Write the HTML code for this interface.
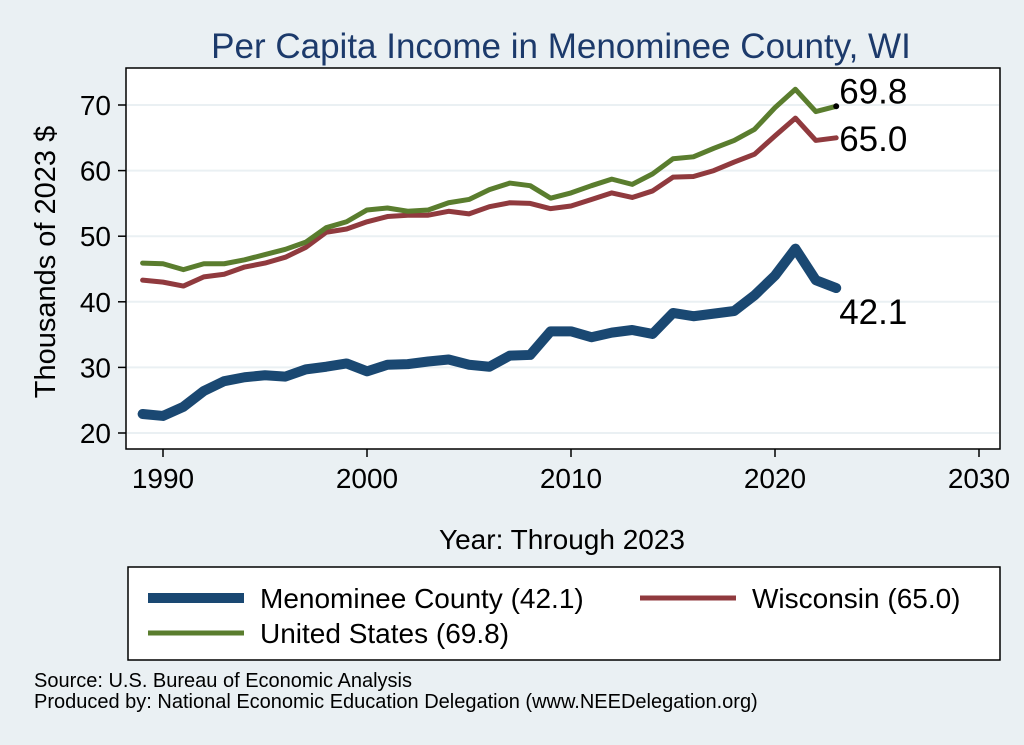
<!DOCTYPE html>
<html><head><meta charset="utf-8"><style>
body{margin:0;background:#eaf0f3;font-family:"Liberation Sans",sans-serif;}
svg{display:block}
</style></head><body>
<svg width="1024" height="745" xmlns="http://www.w3.org/2000/svg">
<rect width="1024" height="745" fill="#eaf0f3"/>
<text x="561" y="58" text-anchor="middle" font-size="35" fill="#1c3a6b">Per Capita Income in Menominee County, WI</text>
<rect x="126" y="68" width="874" height="381" fill="#fff" stroke="#000" stroke-width="1.5"/>
<g id="grid"></g><g id="axes"></g><g id="series"></g>
<text transform="translate(55,262) rotate(-90)" text-anchor="middle" font-size="29" fill="#000">Thousands of 2023 $</text>
<text x="562" y="549" text-anchor="middle" font-size="28" fill="#000">Year: Through 2023</text>
<rect x="128" y="567" width="872" height="93" fill="#fff" stroke="#000" stroke-width="1.5"/>
<g><line x1="148" y1="598" x2="244" y2="598" stroke="#1a4872" stroke-width="10"/><text x="260" y="608" font-size="28">Menominee County (42.1)</text></g>
<g><line x1="640" y1="598" x2="736" y2="598" stroke="#903a3e" stroke-width="5"/><text x="752" y="608" font-size="28">Wisconsin (65.0)</text></g>
<g><line x1="148" y1="633" x2="244" y2="633" stroke="#5a7d2e" stroke-width="5"/><text x="260" y="643" font-size="28">United States (69.8)</text></g>
<text x="34" y="687" font-size="20">Source: U.S. Bureau of Economic Analysis</text>
<text x="34" y="708" font-size="20">Produced by: National Economic Education Delegation (www.NEEDelegation.org)</text>
</svg>
<script>
const years=[1989,1990,1991,1992,1993,1994,1995,1996,1997,1998,1999,2000,2001,2002,2003,2004,2005,2006,2007,2008,2009,2010,2011,2012,2013,2014,2015,2016,2017,2018,2019,2020,2021,2022,2023];
const menominee=[22.9,22.6,24,26.4,27.9,28.5,28.8,28.6,29.7,30.1,30.6,29.4,30.4,30.5,30.9,31.2,30.4,30.1,31.8,31.9,35.5,35.5,34.6,35.3,35.7,35.1,38.3,37.8,38.2,38.6,41,44,48.1,43.3,42.1];
const wisconsin=[43.3,43.0,42.4,43.8,44.2,45.3,45.9,46.8,48.3,50.6,51.1,52.2,53.0,53.2,53.2,53.8,53.4,54.5,55.1,55.0,54.2,54.6,55.6,56.6,55.9,56.9,59.0,59.1,60.0,61.3,62.5,65.3,68.0,64.6,65.0];
const us=[45.9,45.8,44.9,45.8,45.8,46.4,47.2,48.0,49.1,51.3,52.2,54.0,54.3,53.8,54.0,55.1,55.6,57.1,58.1,57.7,55.8,56.6,57.7,58.7,57.9,59.5,61.8,62.1,63.4,64.6,66.3,69.6,72.4,69.0,69.8];
const xTicks=[1990,2000,2010,2020,2030];
const yTicks=[20,30,40,50,60,70];
const NS="http://www.w3.org/2000/svg";
const X=v=>163+(v-1990)*20.4;
const Y=v=>433-(v-20)*6.56;
function mk(t,a,p){const e=document.createElementNS(NS,t);for(const k in a)e.setAttribute(k,a[k]);p.appendChild(e);return e;}
const grid=document.getElementById('grid'),axes=document.getElementById('axes'),ser=document.getElementById('series');
yTicks.forEach(v=>{
 const g=mk('line',{x1:127,x2:999,y1:Y(v),y2:Y(v),stroke:'#eaf0f3','stroke-width':2},grid);
 
 
 mk('line',{x1:118,x2:126,y1:Y(v),y2:Y(v),stroke:'#000','stroke-width':1.5},axes);
 const t=mk('text',{x:111,y:Y(v)+10,'text-anchor':'end','font-size':28},axes);t.textContent=v;
 
 
});
xTicks.forEach(v=>{
 mk('line',{x1:X(v),x2:X(v),y1:449,y2:457,stroke:'#000','stroke-width':1.5},axes);
 const t=mk('text',{x:X(v),y:488,'text-anchor':'middle','font-size':28},axes);t.textContent=v;
 
 
});
function line(vals,col,w,name){
 const p=mk('polyline',{points:vals.map((v,i)=>X(years[i])+','+Y(v)).join(' '),fill:'none',stroke:col,'stroke-width':w,'stroke-linejoin':'round','stroke-linecap':'round'},ser);
 
 
}
line(wisconsin,'#903a3e',5,'series-wisconsin');
line(us,'#5a7d2e',5,'series-us');
line(menominee,'#1a4872',10,'series-menominee');
const n=years.length-1;
mk('circle',{cx:X(years[n]),cy:Y(us[n]),r:3,fill:'#000'},ser);
const lbl=[[us[n],-3],[wisconsin[n],13],[menominee[n],36]];
lbl.forEach(([v,dy])=>{const t=mk('text',{x:X(years[n])+3,y:Y(v)+dy,'font-size':35},ser);t.textContent=v.toFixed(1);
 
 });
</script>
</body></html>
